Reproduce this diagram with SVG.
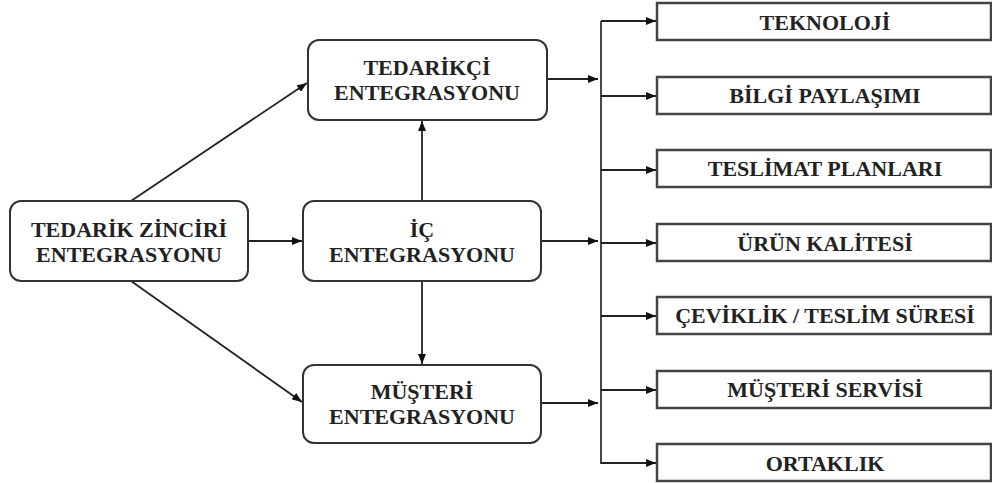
<svg xmlns="http://www.w3.org/2000/svg" width="992" height="483" viewBox="0 0 992 483">
  <defs>
    <marker id="arr" viewBox="0 0 10 8" refX="10" refY="4" markerWidth="10" markerHeight="8" orient="auto" markerUnits="userSpaceOnUse">
      <path d="M0,0 L10,4 L0,8 z" fill="#111"/>
    </marker>
    <style>
      .rbox { fill: #fff; stroke: #333; stroke-width: 2; }
      .sbox { fill: #fff; stroke: #444; stroke-width: 2.5; }
      .lbl { font-weight: 700; font-size: 22px; fill: #222; text-anchor: middle; }
      .con { fill: none; stroke: #333; stroke-width: 1.8; }
      .arw { fill: none; stroke: #222; stroke-width: 1.8; marker-end: url(#arr); }
    </style>
  </defs>

  <!-- connectors -->
  <g id="connectors">
    <line class="arw" x1="131" y1="201" x2="307" y2="83"/>
    <line class="arw" x1="131" y1="281" x2="302" y2="402"/>
    <line class="arw" x1="248" y1="241" x2="302" y2="241"/>
    <line class="arw" x1="422" y1="201" x2="422" y2="121"/>
    <line class="arw" x1="422" y1="281" x2="422" y2="364"/>
    <line class="arw" x1="547" y1="79" x2="598" y2="79"/>
    <line class="arw" x1="541" y1="241" x2="598" y2="241"/>
    <line class="arw" x1="541" y1="403" x2="598" y2="403"/>
    <line class="con" x1="601" y1="21" x2="601" y2="464"/>
    <line class="arw" x1="601" y1="21" x2="656" y2="21"/>
    <line class="arw" x1="601" y1="96" x2="656" y2="96"/>
    <line class="arw" x1="601" y1="170" x2="656" y2="170"/>
    <line class="arw" x1="601" y1="243" x2="656" y2="243"/>
    <line class="arw" x1="601" y1="316" x2="656" y2="316"/>
    <line class="arw" x1="601" y1="390" x2="656" y2="390"/>
    <line class="arw" x1="601" y1="463" x2="656" y2="463"/>
  </g>

  <g font-family="Liberation Serif, serif">
  <!-- main integration nodes -->
  <g id="tedarik-zinciri">
    <rect class="rbox" x="10" y="201" width="238" height="80" rx="11"/>
    <text class="lbl" x="129" y="237">TEDARİK ZİNCİRİ</text>
    <text class="lbl" x="129" y="262">ENTEGRASYONU</text>
  </g>
  <g id="tedarikci">
    <rect class="rbox" x="308" y="40" width="239" height="80" rx="11"/>
    <text class="lbl" x="427" y="75">TEDARİKÇİ</text>
    <text class="lbl" x="427" y="100">ENTEGRASYONU</text>
  </g>
  <g id="ic">
    <rect class="rbox" x="303" y="201" width="238" height="80" rx="11"/>
    <text class="lbl" x="422" y="237">İÇ</text>
    <text class="lbl" x="422" y="262">ENTEGRASYONU</text>
  </g>
  <g id="musteri">
    <rect class="rbox" x="303" y="365" width="238" height="78" rx="11"/>
    <text class="lbl" x="422" y="399">MÜŞTERİ</text>
    <text class="lbl" x="422" y="424">ENTEGRASYONU</text>
  </g>

  <!-- outcome nodes -->
  <g id="teknoloji">
    <rect class="sbox" x="657" y="3" width="334" height="37"/>
    <text class="lbl" x="825" y="30">TEKNOLOJİ</text>
  </g>
  <g id="bilgi">
    <rect class="sbox" x="657" y="77" width="334" height="37"/>
    <text class="lbl" x="825" y="103">BİLGİ PAYLAŞIMI</text>
  </g>
  <g id="teslimat">
    <rect class="sbox" x="657" y="150" width="334" height="37"/>
    <text class="lbl" x="825" y="176">TESLİMAT PLANLARI</text>
  </g>
  <g id="urun">
    <rect class="sbox" x="657" y="224" width="334" height="37"/>
    <text class="lbl" x="825" y="251">ÜRÜN KALİTESİ</text>
  </g>
  <g id="ceviklik">
    <rect class="sbox" x="657" y="297" width="334" height="37"/>
    <text class="lbl" x="825" y="323">ÇEVİKLİK / TESLİM SÜRESİ</text>
  </g>
  <g id="servis">
    <rect class="sbox" x="657" y="371" width="334" height="37"/>
    <text class="lbl" x="825" y="397">MÜŞTERİ SERVİSİ</text>
  </g>
  <g id="ortaklik">
    <rect class="sbox" x="657" y="444" width="334" height="37"/>
    <text class="lbl" x="825" y="471">ORTAKLIK</text>
  </g>
  </g>
</svg>
